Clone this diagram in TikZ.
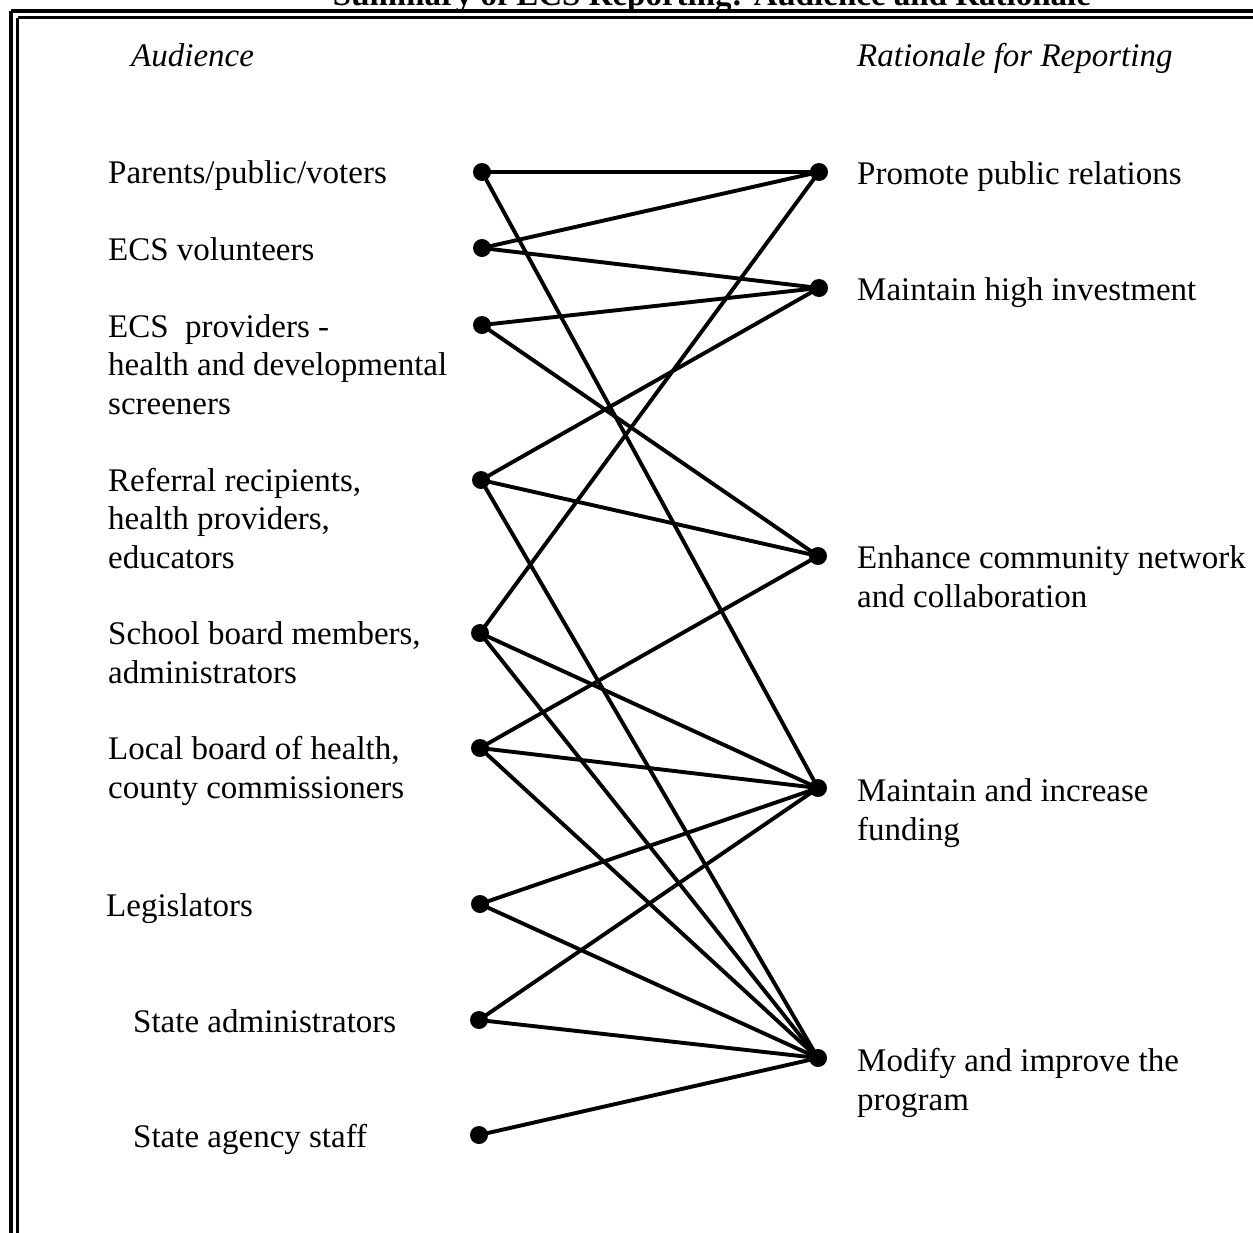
\documentclass[tikz,border=0pt]{standalone}
\usepackage{fontspec}
\setmainfont{Liberation Serif}
\begin{document}
\begin{tikzpicture}[x=1pt,y=-1pt,
  lab/.style={anchor=base west,inner sep=0pt,align=left,font=\fontsize{33}{38.5}\selectfont},
  hdr/.style={anchor=base west,inner sep=0pt,font=\fontsize{33}{38}\selectfont\itshape},
  dot/.style={circle,fill=black,inner sep=0pt,minimum size=18pt},
  link/.style={line width=3.9pt}]
\useasboundingbox (0,0) rectangle (1253,1232);
% frame
\draw[line width=3.2pt] (11,11) -- (1270,11);
\draw[line width=3.2pt] (11,11) -- (11,1250);
\draw[line width=2.4pt] (17.5,17.5) -- (1270,17.5);
\draw[line width=2.4pt] (17.5,17.5) -- (17.5,1250);
% title (cut off at top)
\node[anchor=base,inner sep=0pt,font=\fontsize{33}{38}\selectfont\bfseries] (title) at (712,5) {Summary of ECS Reporting: Audience and Rationale};
% headers
\node[hdr] (haud) at (131,66) {Audience};
\node[hdr] (hrat) at (857,66) {Rationale for Reporting};
% left labels (base = last line baseline)
\node[lab] (t1) at (108,183) {Parents/public/voters};
\node[lab] (t2) at (108,260) {ECS volunteers};
\node[lab] (t3) at (108,414) {ECS\ \ providers -\\health and developmental\\screeners};
\node[lab] (t4) at (108,568) {Referral recipients,\\health providers,\\educators};
\node[lab] (t5) at (108,683) {School board members,\\administrators};
\node[lab] (t6) at (108,798) {Local board of health,\\county commissioners};
\node[lab] (t7) at (106,916) {Legislators};
\node[lab] (t8) at (133,1032) {State administrators};
\node[lab] (t9) at (133,1147) {State agency staff};
% right labels
\node[lab] (u1) at (857,184) {Promote public relations};
\node[lab] (u2) at (857,300) {Maintain high investment};
\node[lab] (u3) at (857,607) {Enhance community network\\and collaboration};
\node[lab] (u4) at (857,840) {Maintain and increase\\funding};
\node[lab] (u5) at (857,1110) {Modify and improve the\\program};
% dots
\node[dot] (a1) at (482,172) {};
\node[dot] (a2) at (482,248) {};
\node[dot] (a3) at (482,325) {};
\node[dot] (a4) at (481,480) {};
\node[dot] (a5) at (480,633) {};
\node[dot] (a6) at (480,748) {};
\node[dot] (a7) at (480,904) {};
\node[dot] (a8) at (479,1020) {};
\node[dot] (a9) at (479,1135) {};
\node[dot] (r1) at (819,172) {};
\node[dot] (r2) at (819,288) {};
\node[dot] (r3) at (818,556) {};
\node[dot] (r4) at (818,788) {};
\node[dot] (r5) at (818,1058) {};
% links
\draw[link] (a1.center) -- (r1.center);
\draw[link] (a1.center) -- (r4.center);
\draw[link] (a2.center) -- (r1.center);
\draw[link] (a2.center) -- (r2.center);
\draw[link] (a3.center) -- (r2.center);
\draw[link] (a3.center) -- (r3.center);
\draw[link] (a4.center) -- (r2.center);
\draw[link] (a4.center) -- (r3.center);
\draw[link] (a4.center) -- (r5.center);
\draw[link] (a5.center) -- (r1.center);
\draw[link] (a5.center) -- (r4.center);
\draw[link] (a5.center) -- (r5.center);
\draw[link] (a6.center) -- (r3.center);
\draw[link] (a6.center) -- (r4.center);
\draw[link] (a6.center) -- (r5.center);
\draw[link] (a7.center) -- (r4.center);
\draw[link] (a7.center) -- (r5.center);
\draw[link] (a8.center) -- (r4.center);
\draw[link] (a8.center) -- (r5.center);
\draw[link] (a9.center) -- (r5.center);
\end{tikzpicture}
\end{document}
